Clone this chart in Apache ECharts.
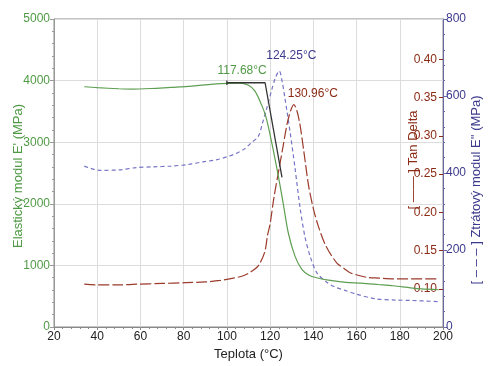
<!DOCTYPE html>
<html>
<head>
<meta charset="utf-8">
<script src="https://cdn.jsdelivr.net/npm/echarts@6/dist/echarts.min.js"></script>
<style>
html,body{margin:0;padding:0;background:#fff;}
#c{width:488px;height:366px;}
</style>
</head>
<body>
<div id="c"></div>
<script>
// ---- data ----
const xTicks = [20, 40, 60, 80, 100, 120, 140, 160, 180, 200];
const leftTicks = [0, 1000, 2000, 3000, 4000, 5000];
const tanTicks = [0.10, 0.15, 0.20, 0.25, 0.30, 0.35, 0.40];
const lossTicks = [0, 200, 400, 600, 800];

// Elastický modul E' (MPa)
const storageT = [34, 40, 50, 56, 65, 74, 82, 90, 100, 106, 110, 113, 116, 118, 120, 123, 126, 128.4, 131.5, 134.6, 138, 142, 147, 155, 162, 170, 177, 185, 190, 198];
const storageE = [3900, 3885, 3868, 3862, 3872, 3890, 3905, 3932, 3955, 3960, 3925, 3830, 3610, 3420, 3120, 2600, 2020, 1530, 1150, 940, 840, 795, 760, 725, 712, 690, 670, 635, 618, 605];

// Ztrátový modul E'' (MPa)
const lossT = [34, 37, 41, 50, 58, 66, 74, 82, 89, 95, 100, 104, 108, 111, 114.5, 116.5, 118.4, 120.7, 122.5, 124.25, 125.5, 126.9, 129.2, 131.5, 133.8, 136.1, 138.5, 141.6, 146.2, 150, 154.7, 160, 169, 178, 185, 198];
const lossE = [418, 412, 407, 408, 414, 416, 418, 422, 429, 434, 442, 450, 462, 477, 495, 530, 567, 615, 648, 665, 640, 593, 508, 414, 312, 235, 184, 141, 116, 104, 95, 85, 73, 70, 69, 66];

// Tan Delta
const tanT = [34, 40, 50, 58, 70, 81, 90, 97, 103, 107.6, 111, 114.5, 117.5, 118.8, 120, 121.8, 124.2, 126.1, 127.8, 129.5, 130.96, 132.4, 133.8, 135.6, 137.8, 140, 142.3, 145.8, 150.8, 154.5, 157, 164.7, 170, 177, 198];
const tanD = [0.106, 0.105, 0.105, 0.106, 0.107, 0.108, 0.109, 0.111, 0.114, 0.117, 0.122, 0.130, 0.148, 0.170, 0.185, 0.220, 0.258, 0.288, 0.315, 0.333, 0.341, 0.333, 0.315, 0.280, 0.235, 0.205, 0.182, 0.156, 0.134, 0.126, 0.121, 0.115, 0.114, 0.113, 0.113];

// onset tangent construction (T, E')
const onsetT = [100, 100, 100, 117.68, 125.5];
const onsetE = [4000, 3930, 3965, 3965, 2430];

const peaks = { onset: [117.68, 3965], loss: [124.25, 665], tan: [130.96, 0.341] };
const peakLabels = { onset: '117.68°C', loss: '124.25°C', tan: '130.96°C' };

const zip = (a, b) => a.map((v, i) => [v, b[i]]);

const GREEN = '#4f9a44', GREEN_LINE = '#5e9e52';
const BLUE = '#3c3a8c', BLUE_LINE = '#7674c4';
const RED = '#8b2b16', RED_LINE = '#9b3b2b';
const FONT = 'Liberation Sans, Arial, sans-serif';

const chart = echarts.init(document.getElementById('c'), null, { renderer: 'canvas' });
chart.setOption({
  animation: false,
  backgroundColor: '#fff',
  textStyle: { fontFamily: FONT },
  grid: { left: 54, right: 45, top: 19, bottom: 34, show: true, borderColor: '#8a8a8a', borderWidth: 1, backgroundColor: 'transparent' },
  xAxis: {
    type: 'value', min: xTicks[0], max: xTicks[xTicks.length - 1], interval: 20,
    name: 'Teplota (°C)', nameLocation: 'middle', nameGap: 21,
    nameTextStyle: { color: '#222', fontSize: 13, fontFamily: FONT },
    axisLine: { lineStyle: { color: '#888' } },
    axisTick: { length: 3, lineStyle: { color: '#888' } },
    minorTick: { show: true, splitNumber: 5, length: 2, lineStyle: { color: '#888' } },
    axisLabel: { color: '#222', fontSize: 12, margin: 4, fontFamily: FONT, formatter: v => String(v) },
    splitLine: { lineStyle: { color: '#dcdcdc' } }
  },
  yAxis: [
    {
      type: 'value', min: leftTicks[0], max: leftTicks[leftTicks.length - 1], interval: 1000, position: 'left',
      axisLine: { show: true, lineStyle: { color: '#999' } },
      axisTick: { show: true, length: 4, lineStyle: { color: '#999' } },
      minorTick: { show: true, splitNumber: 5, length: 2, lineStyle: { color: '#999' } },
      axisLabel: { color: GREEN, fontSize: 12, margin: 4, fontFamily: FONT, formatter: v => String(v) },
      splitLine: { lineStyle: { color: '#dcdcdc' } }
    },
    {
      type: 'value', min: 0.05, max: 0.453, interval: 0.05, position: 'right',
      axisLine: { show: false },
      axisTick: { show: true, inside: true, length: 4, customValues: tanTicks, lineStyle: { color: RED } },
      axisLabel: { inside: true, color: RED, fontSize: 12, margin: 6, fontFamily: FONT, customValues: tanTicks,
        formatter: v => (v > 0.099 && v < 0.401) ? v.toFixed(2) : '' },
      splitLine: { show: false }
    },
    {
      type: 'value', min: lossTicks[0], max: lossTicks[lossTicks.length - 1], interval: 200, position: 'right',
      axisLine: { show: true, lineStyle: { color: '#6a68a8' } },
      axisTick: { show: true, length: 4, lineStyle: { color: '#6a68a8' } },
      minorTick: { show: true, splitNumber: 5, length: 2, lineStyle: { color: '#6a68a8' } },
      axisLabel: { color: BLUE, fontSize: 12, margin: 3, fontFamily: FONT, formatter: v => String(v) },
      splitLine: { show: false }
    }
  ],
  series: [
    {
      name: 'Ztrátový modul', type: 'line', yAxisIndex: 2, data: zip(lossT, lossE), smooth: 0.3,
      symbol: 'none', lineStyle: { color: BLUE_LINE, width: 1.2, type: [4, 3] },
      markPoint: { symbol: 'circle', symbolSize: 0, data: [{ coord: peaks.loss }],
        label: { show: true, position: 'top', formatter: peakLabels.loss, color: BLUE, fontSize: 12, offset: [12, -4], fontFamily: FONT } }
    },
    {
      name: 'Tan Delta', type: 'line', yAxisIndex: 1, data: zip(tanT, tanD), smooth: 0.3,
      symbol: 'none', lineStyle: { color: RED_LINE, width: 1.2, type: [11, 3] },
      markPoint: { symbol: 'circle', symbolSize: 0, data: [{ coord: peaks.tan }],
        label: { show: true, position: 'top', formatter: peakLabels.tan, color: RED, fontSize: 12, offset: [19, 0], fontFamily: FONT } }
    },
    {
      name: 'Elastický modul', type: 'line', yAxisIndex: 0, data: zip(storageT, storageE), smooth: 0.3,
      symbol: 'none', lineStyle: { color: GREEN_LINE, width: 1.2 }
    },
    {
      name: 'onset', type: 'line', yAxisIndex: 0, data: zip(onsetT, onsetE), smooth: false,
      symbol: 'none', lineStyle: { color: '#333', width: 1.3 },
      markPoint: { symbol: 'circle', symbolSize: 0, data: [{ coord: peaks.onset }],
        label: { show: true, position: 'top', formatter: peakLabels.onset, color: GREEN, fontSize: 12, offset: [-23, -1], fontFamily: FONT } }
    }
  ],
  graphic: [
    { type: 'text', x: 18, y: 176, rotation: Math.PI / 2,
      style: { text: "Elastický modul E' (MPa)", fill: GREEN, font: '13px ' + FONT, align: 'center', verticalAlign: 'middle' } },
    { type: 'text', x: 413, y: 160, rotation: Math.PI / 2,
      style: { text: '[ —— ] Tan Delta', fill: RED, font: '13px ' + FONT, align: 'center', verticalAlign: 'middle' } },
    { type: 'text', x: 476, y: 190, rotation: Math.PI / 2,
      style: { text: "[ – – – ] Ztrátový modul E'' (MPa)", fill: BLUE, font: '13px ' + FONT, align: 'center', verticalAlign: 'middle' } }
  ]
});
</script>
</body>
</html>
